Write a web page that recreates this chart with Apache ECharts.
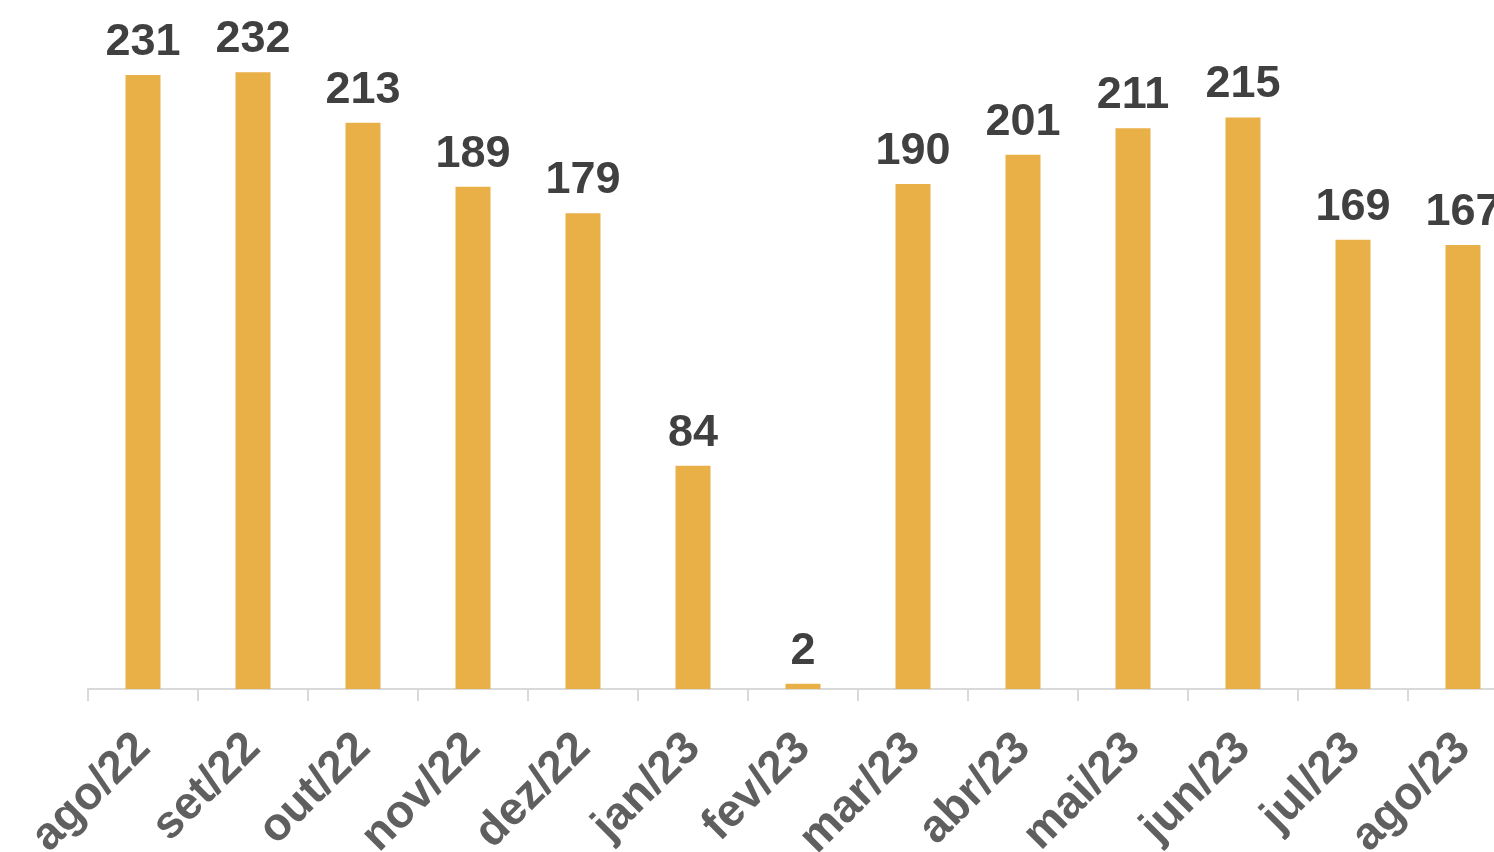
<!DOCTYPE html>
<html>
<head>
<meta charset="utf-8">
<script src="https://cdn.jsdelivr.net/npm/echarts@6/dist/echarts.min.js"></script>
<style>
html,body{margin:0;padding:0;background:#fff;overflow:hidden;width:1494px;height:852px;}
#chart{width:1540px;height:900px;}
</style>
</head>
<body>
<div id="chart"></div>
<script>
const categories = ['ago/22','set/22','out/22','nov/22','dez/22','jan/23','fev/23','mar/23','abr/23','mai/23','jun/23','jul/23','ago/23'];
const values = [231, 232, 213, 189, 179, 84, 2, 190, 201, 211, 215, 169, 167];

const chart = echarts.init(document.getElementById('chart'));
chart.setOption({
  animation: false,
  grid: { left: 88, width: 1430, top: 24.5, height: 664.5 },
  xAxis: {
    type: 'category',
    data: categories,
    axisLine: { lineStyle: { color: '#d9d9d9', width: 2 } },
    axisTick: { show: true, length: 12, lineStyle: { color: '#d9d9d9', width: 2 } },
    axisLabel: {
      rotate: 45,
      interval: 0,
      margin: 52,
      color: '#5f5f5f',
      fontFamily: 'Liberation Sans, Arial, sans-serif',
      fontWeight: 'bold',
      fontSize: 46
    }
  },
  yAxis: {
    type: 'value',
    min: 0,
    max: 250,
    show: false,
    splitLine: { show: false }
  },
  series: [{
    type: 'bar',
    data: values,
    barWidth: 35,
    itemStyle: { color: '#eab048' },
    label: {
      show: true,
      position: 'top',
      distance: 10,
      color: '#404040',
      fontFamily: 'Liberation Sans, Arial, sans-serif',
      fontWeight: 'bold',
      fontSize: 45
    }
  }]
});
</script>
</body>
</html>
